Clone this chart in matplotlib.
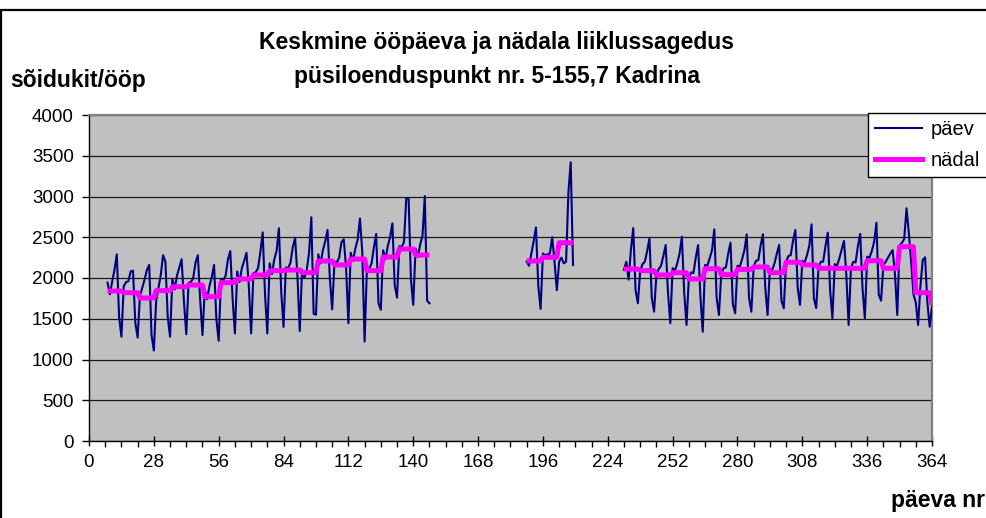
import numpy as np
import matplotlib
matplotlib.use("Agg")
import matplotlib.pyplot as plt
from matplotlib.patches import Rectangle
from matplotlib.lines import Line2D
from matplotlib.ticker import MultipleLocator

plt.rcParams['font.family'] = ['Liberation Sans', 'DejaVu Sans']

title_line1 = "Keskmine ööpäeva ja nädala liiklussagedus"
title_line2 = "püsiloenduspunkt nr. 5-155,7 Kadrina"
y_label = "sõidukit/ööp"
x_label = "päeva nr"
legend_labels = ["päev", "nädal"]

x_ticks = list(range(0, 365, 28))
y_ticks = list(range(0, 4001, 500))

# Segment 1: days 8..147
seg1_start = 8
seg1_daily = [
    1943, 1800, 1955, 2100, 2290, 1520, 1280,
    1900, 1950, 1960, 2080, 2090, 1450, 1270,
    1780, 1880, 1980, 2100, 2160, 1300, 1110,
    1720, 1880, 2040, 2280, 2200, 1520, 1280,
    1990, 1860, 2030, 2130, 2230, 1709, 1310,
    1940, 1950, 2000, 2190, 2280, 1732, 1300,
    1860, 1740, 1900, 2010, 2160, 1493, 1230,
    1980, 1970, 2030, 2230, 2330, 1749, 1320,
    2080, 1950, 2120, 2210, 2310, 1904, 1320,
    2060, 2070, 2120, 2320, 2560, 1801, 1320,
    2180, 2050, 2230, 2330, 2610, 1830, 1400,
    2130, 2120, 2190, 2380, 2490, 2024, 1350,
    2100, 2000, 2100, 2300, 2745, 1560, 1550,
    2290, 2180, 2340, 2450, 2590, 1992, 1615,
    2200, 2190, 2250, 2440, 2475, 2130, 1445,
    2310, 2210, 2360, 2470, 2730, 2319, 1220,
    2120, 2110, 2180, 2370, 2540, 1690, 1610,
    2340, 2230, 2390, 2500, 2670, 1914, 1760,
    2390, 2380, 2440, 2980, 2980, 1988, 1670,
    2360, 2260, 2410, 2520, 3005, 1721, 1690,
]
seg1_weekly = [1840, 1820, 1755, 1845, 1893, 1914, 1771, 1943, 1988, 2037,
               2090, 2098, 2065, 2209, 2160, 2233, 2090, 2258, 2356, 2282]

# Segment 2: days 189..209
seg2_start = 189
seg2_daily = [2200, 2150, 2300, 2450, 2620, 1900, 1620,
              2300, 2280, 2290, 2300, 2500, 2200, 1850,
              2200, 2250, 2180, 2200, 3050, 3420, 2160]
seg2_weekly = [2209, 2254, 2433]

# Segment 3: days 231..364
seg3_start = 231
seg3_daily = [
    2100, 2200, 1980, 2350, 2613, 1850, 1690,
    2090, 2170, 2200, 2330, 2486, 1757, 1587,
    2040, 2110, 2150, 2270, 2405, 1822, 1444,
    2120, 2090, 2180, 2300, 2507, 1825, 1423,
    2000, 2070, 2060, 2250, 2405, 1778, 1341,
    2160, 2150, 2240, 2340, 2597, 1759, 1546,
    2050, 2120, 2130, 2300, 2433, 1683, 1567,
    2150, 2140, 2230, 2340, 2536, 1755, 1587,
    2140, 2210, 2220, 2400, 2536, 1883, 1546,
    2110, 2100, 2180, 2300, 2405, 1722, 1628,
    2200, 2270, 2280, 2460, 2589, 1881, 1669,
    2210, 2190, 2280, 2390, 2658, 1751, 1631,
    2130, 2200, 2200, 2390, 2556, 1856, 1505,
    2170, 2150, 2240, 2350, 2454, 2040, 1423,
    2120, 2200, 2190, 2390, 2540, 1872, 1505,
    2260, 2250, 2330, 2440, 2678, 1796, 1722,
    2150, 2200, 2250, 2300, 2343, 2050, 1546,
    2400, 2430, 2480, 2855, 2550, 2200, 1800,
    1700, 1423, 1900, 2220, 2254, 1700, 1402,
    1650,
]
seg3_weekly = [2110, 2090, 2037, 2065, 1988, 2114, 2041, 2106, 2135, 2065,
               2193, 2160, 2119, 2119, 2119, 2212, 2119, 2384, 1820, 1670]

segments = [
    (seg1_start, seg1_daily, seg1_weekly),
    (seg2_start, seg2_daily, seg2_weekly),
    (seg3_start, seg3_daily, seg3_weekly),
]

W, H = 987, 518
fig = plt.figure(figsize=(W / 100, H / 100), dpi=100)
ax = fig.add_axes([89 / W, 1 - 441 / H, (932 - 89) / W, (441 - 115) / H])
ax.set_facecolor('#C0C0C0')

for start, daily, weekly in segments:
    days = np.arange(start, start + len(daily))
    ax.plot(days, daily, color='#000080', lw=1.5, zorder=3)
    wk = np.repeat(weekly, 7)[:len(daily)]
    ax.plot(days, wk, color='#FF00FF', lw=3.6, zorder=4, solid_capstyle='butt')

ax.set_xlim(0, 364)
ax.set_ylim(0, 4000)
ax.set_xticks(x_ticks)
ax.xaxis.set_minor_locator(MultipleLocator(7))
ax.set_yticks(y_ticks)
ax.grid(axis='y', color='#1a1a1a', lw=0.9)
ax.set_axisbelow(True)

for s in ['left', 'bottom']:
    ax.spines[s].set_color('black')
    ax.spines[s].set_linewidth(1.0)
for s in ['top', 'right']:
    ax.spines[s].set_color('#808080')
    ax.spines[s].set_linewidth(1.6)

ax.tick_params(axis='y', direction='out', length=5, width=1, labelsize=13.5, pad=6)
ax.tick_params(axis='x', which='major', direction='inout', length=7, width=1, labelsize=13.5, pad=6)
ax.tick_params(axis='x', which='minor', direction='out', length=4, width=1)

fig.text(497 / W, 1 - 43 / H, title_line1, ha='center', va='center',
         fontsize=16.5, fontweight='bold')
fig.text(497 / W, 1 - 76 / H, title_line2, ha='center', va='center',
         fontsize=16.5, fontweight='bold')
fig.text(10 / W, 1 - 81 / H, y_label, ha='left', va='center',
         fontsize=16.5, fontweight='bold')
fig.text(985 / W, 1 - 500 / H, x_label, ha='right', va='center',
         fontsize=16.5, fontweight='bold')

handles = [Line2D([], [], color='#000080', lw=1.5),
           Line2D([], [], color='#FF00FF', lw=3.6)]
leg = fig.legend(handles, legend_labels, loc='upper left',
                 bbox_to_anchor=(868 / W, 1 - 113 / H), frameon=True,
                 fancybox=False, edgecolor='black', framealpha=1,
                 fontsize=14.5, handlelength=2.35, handletextpad=0.4,
                 borderpad=0.35, labelspacing=0.6, borderaxespad=0)
leg.get_frame().set_linewidth(1.0)

fig.add_artist(Rectangle((1 / W, -0.05), 1.2, (1 - 10 / H) + 0.05,
                         transform=fig.transFigure, fill=False,
                         edgecolor='black', lw=1.6, clip_on=False))

fig.savefig('out.png', dpi=100, facecolor='white')
